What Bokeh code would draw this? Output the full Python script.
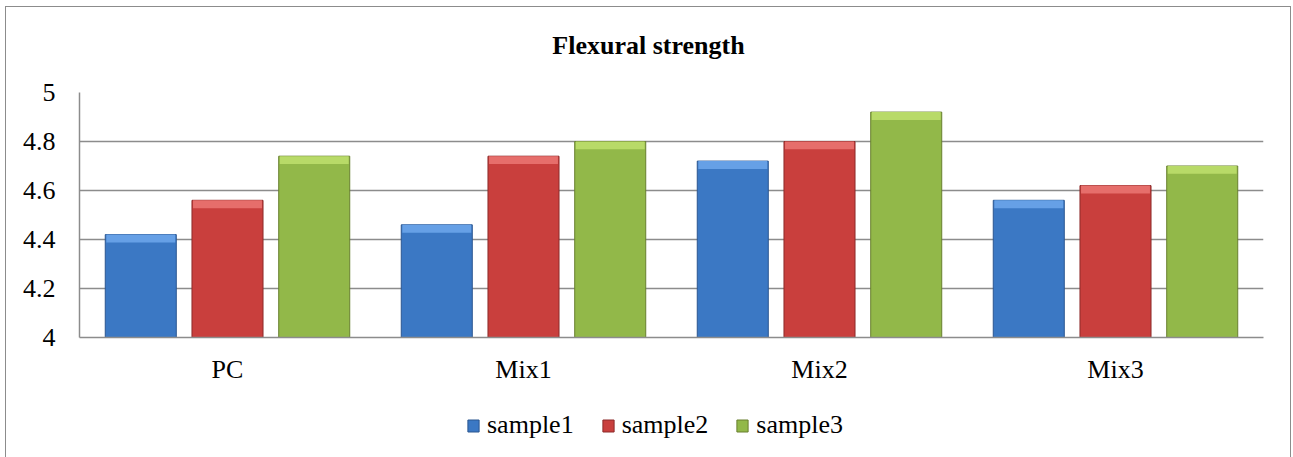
from bokeh.plotting import figure
from bokeh.layouts import column
from bokeh.models import (ColumnDataSource, FactorRange, Range1d, FixedTicker,
                          Legend, LegendItem, Label)
from bokeh.transform import dodge
from bokeh.embed import file_html
from bokeh.resources import INLINE

categories = ["PC", "Mix1", "Mix2", "Mix3"]
sample1 = [4.42, 4.46, 4.72, 4.56]
sample2 = [4.56, 4.74, 4.80, 4.62]
sample3 = [4.74, 4.80, 4.92, 4.70]
series_names = ["sample1", "sample2", "sample3"]
y_ticks = [4.0, 4.2, 4.4, 4.6, 4.8, 5.0]
y_tick_labels = ["4", "4.2", "4.4", "4.6", "4.8", "5"]
title_text = "Flexural strength"

FONT = "Liberation Serif"
FS = "26px"
body_colors = ["#3b78c4", "#c93f3d", "#92b849"]
top_colors = ["#66a0e6", "#e66e6b", "#b8da68"]
edge_colors = ["#2b5690", "#8c2b2a", "#687f2f"]
BEVEL = 0.032  # depth of the bevelled top face, in value units

cols = ["s1", "s2", "s3"]
data = dict(cat=categories, s1=sample1, s2=sample2, s3=sample3)
for c in cols:
    data[c + "_b"] = [v - BEVEL for v in data[c]]
src = ColumnDataSource(data)

W = 1284
xr = FactorRange(factors=categories, range_padding=0)


def blank(height, y_range):
    f = figure(x_range=xr, y_range=y_range, width=W, height=height,
               output_backend="svg", toolbar_location=None,
               x_axis_type=None, y_axis_type=None,
               min_border_left=0, min_border_right=0,
               min_border_top=0, min_border_bottom=0)
    f.outline_line_color = None
    f.xgrid.grid_line_color = None
    f.ygrid.grid_line_color = None
    f.background_fill_color = "white"
    f.border_fill_color = "white"
    return f


# title strip
tf = blank(70, Range1d(0, 1))
tf.add_layout(Label(x=2, y=0.457, x_offset=-23, text=title_text,
                    text_align="center", text_baseline="middle",
                    text_font=FONT, text_font_size=FS,
                    text_font_style="bold", text_color="black"))

# main chart
p = figure(x_range=xr, y_range=Range1d(4, 5), width=W, height=323,
           output_backend="svg", toolbar_location=None,
           min_border_left=73, min_border_right=27,
           min_border_top=15, min_border_bottom=63)
p.outline_line_color = None
p.background_fill_color = "white"
p.border_fill_color = "white"

p.xgrid.grid_line_color = None
p.ygrid.ticker = FixedTicker(ticks=y_ticks)
p.ygrid.grid_line_color = "#8c8c8c"
p.ygrid.grid_line_width = 1.5

p.yaxis.ticker = FixedTicker(ticks=y_ticks)
p.yaxis.major_label_overrides = {t: l for t, l in zip(y_ticks, y_tick_labels)}
p.yaxis.axis_line_color = "#8c8c8c"
p.yaxis.axis_line_width = 1.5
p.yaxis.major_tick_line_color = None
p.yaxis.minor_tick_line_color = None
p.yaxis.major_tick_out = 0
p.yaxis.major_label_standoff = 24
p.yaxis.major_label_text_font = FONT
p.yaxis.major_label_text_font_size = FS
p.yaxis.major_label_text_color = "black"

p.xaxis.axis_line_color = "#8c8c8c"
p.xaxis.axis_line_width = 1.5
p.xaxis.major_tick_line_color = None
p.xaxis.minor_tick_line_color = None
p.xaxis.major_tick_out = 0
p.xaxis.major_label_standoff = 17
p.xaxis.major_label_text_font = FONT
p.xaxis.major_label_text_font_size = FS
p.xaxis.major_label_text_color = "black"

offsets = [-0.293, 0.0, 0.293]
bw = 0.24
for i, c in enumerate(cols):
    xs = dodge("cat", offsets[i], range=xr)
    p.vbar(x=xs, top=c, bottom=4, width=bw, source=src,
           fill_color=body_colors[i], line_color=edge_colors[i], line_width=1)
    # bevelled, lighter top face
    p.vbar(x=xs, top=c, bottom=c + "_b", width=bw * 0.97, source=src,
           fill_color=top_colors[i], line_color=None)

# legend strip (series drawn again below its visible y range)
lg = blank(57, Range1d(10, 11))
items = []
for i, c in enumerate(cols):
    xs = dodge("cat", offsets[i], range=xr)
    r = lg.vbar(x=xs, top=c, bottom=4, width=bw, source=src,
                fill_color=body_colors[i], line_color=edge_colors[i])
    items.append(LegendItem(label=series_names[i], renderers=[r], index=0))
legend = Legend(items=items, orientation="horizontal", location=(387, 17),
                label_text_font=FONT, label_text_font_size=FS,
                label_text_color="black", glyph_width=14, glyph_height=15,
                label_standoff=7, spacing=27, padding=0, margin=0,
                border_line_color=None, background_fill_alpha=0)
lg.add_layout(legend, "center")

layout = column(tf, p, lg, spacing=0)
layout.margin = (7, 0, 0, 6)
layout.styles = {"outline": "1.5px solid #8c8c8c", "outline-offset": "0px"}

open("out.html", "w").write(file_html(layout, INLINE))
